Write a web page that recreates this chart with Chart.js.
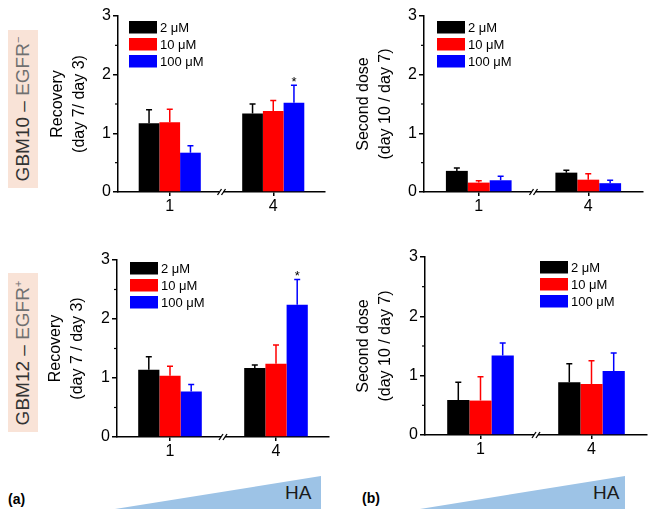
<!DOCTYPE html>
<html>
<head>
<meta charset="utf-8">
<script src="https://cdn.jsdelivr.net/npm/chart.js@4.4.1/dist/chart.umd.min.js"></script>
<style>
    body { margin: 0; background: #fff; }
    #page { position: relative; width: 654px; height: 518px; overflow: hidden; background: #fff;
            font-family: 'Liberation Sans', Arial, sans-serif; }
    .panel { position: absolute; }
    .rowlabel { position: absolute; left: 8px; width: 30px; background: #f9e3d7; }
    .rowlabel .txt { position: absolute; left: 50%; top: 50%; white-space: nowrap; font-size: 19px;
                     transform: translate(-50%, -50%) rotate(-90deg); color: #333; }
    .rowlabel .egfr { color: #707070; }
    .rowlabel sup { font-size: 11px; }
    .tag { position: absolute; font-weight: bold; font-size: 14px; color: #000; }
    .wedge { position: absolute; top: 476px; height: 33px; background: #9dc3e6;
             clip-path: polygon(0 100%, 100% 0, 100% 100%); }
    .ha { position: absolute; top: 482px; font-size: 19px; color: #1a1a1a; }
</style>
</head>
<body>
<div id="page">
    <div class="rowlabel" style="top:30px;height:158px"><span class="txt">GBM10 – <span class="egfr">EGFR<sup>−</sup></span></span></div>
    <div class="rowlabel" style="top:273px;height:159px"><span class="txt">GBM12 – <span class="egfr">EGFR<sup>+</sup></span></span></div>

    <div class="panel" style="left:0;top:0"><canvas id="recGbm10" width="330" height="220"></canvas></div>
    <div class="panel" style="left:330px;top:0"><canvas id="secGbm10" width="324" height="220"></canvas></div>
    <div class="panel" style="left:0;top:240px"><canvas id="recGbm12" width="330" height="220"></canvas></div>
    <div class="panel" style="left:330px;top:240px"><canvas id="secGbm12" width="324" height="220"></canvas></div>

    <div class="tag" style="left:8px;top:491px">(a)</div>
    <div class="tag" style="left:362px;top:490px">(b)</div>
    <div class="wedge" style="left:115px;width:206px"></div>
    <div class="wedge" style="left:420px;width:205px"></div>
    <div class="ha" style="left:285px">HA</div>
    <div class="ha" style="left:593px">HA</div>
</div>

<script>
// Данные: концентрации и точки времени
const doses = ['2 μM', '10 μM', '100 μM'];
const timepoints = ['1', '4'];
const doseColors = ['#000000', '#ff0000', '#0000ff'];

// Recovery (day 7 / day 3), GBM10 — по дозам, затем по точкам
const recGbm10Mean = [[1.17, 1.34], [1.19, 1.38], [0.67, 1.52]];
const recGbm10Err = [[0.23, 0.16], [0.22, 0.18], [0.12, 0.30]];
const recGbm10Sig = [[0, 0], [0, 0], [0, 1]];

// Second dose (day 10 / day 7), GBM10
const secGbm10Mean = [[0.36, 0.33], [0.16, 0.21], [0.20, 0.15]];
const secGbm10Err = [[0.05, 0.04], [0.03, 0.10], [0.07, 0.05]];
const secGbm10Sig = [[0, 0], [0, 0], [0, 0]];

// Recovery, GBM12
const recGbm12Mean = [[1.14, 1.17], [1.04, 1.24], [0.77, 2.24]];
const recGbm12Err = [[0.22, 0.05], [0.16, 0.32], [0.12, 0.43]];
const recGbm12Sig = [[0, 0], [0, 0], [0, 1]];

// Second dose, GBM12
const secGbm12Mean = [[0.59, 0.89], [0.58, 0.86], [1.34, 1.08]];
const secGbm12Err = [[0.30, 0.31], [0.40, 0.39], [0.21, 0.30]];
const secGbm12Sig = [[0, 0], [0, 0], [0, 0]];

const recTitle = ['Recovery', '(day 7/ day 3)'];
const recTitle2 = ['Recovery', '(day 7 / day 3)'];
const secTitle = ['Second dose', '(day 10 / day 7)'];

Chart.defaults.font.family = "'Liberation Sans', Arial, sans-serif";
Chart.defaults.color = '#000';

// Планки погрешностей, звёздочки, малые деления, разрыв оси и легенда
const panelExtras = {
    id: 'panelExtras',
    afterDatasetsDraw(chart, args, opts) {
        const { ctx, chartArea, scales: { x, y } } = chart;
        ctx.save();
        chart.data.datasets.forEach((ds, i) => {
            const meta = chart.getDatasetMeta(i);
            meta.data.forEach((bar, j) => {
                const top = y.getPixelForValue(ds.data[j] + ds.err[j]);
                ctx.strokeStyle = ds.backgroundColor;
                ctx.lineWidth = 1.5;
                ctx.beginPath();
                ctx.moveTo(bar.x, bar.y);
                ctx.lineTo(bar.x, top);
                ctx.moveTo(bar.x - 3, top);
                ctx.lineTo(bar.x + 3, top);
                ctx.stroke();
                if (ds.sig[j]) {
                    ctx.fillStyle = '#000';
                    ctx.font = '13px ' + Chart.defaults.font.family;
                    ctx.textAlign = 'center';
                    ctx.textBaseline = 'alphabetic';
                    ctx.fillText('*', bar.x, top + 1);
                }
            });
        });

        // малые деления по оси Y
        ctx.strokeStyle = '#000';
        ctx.lineWidth = 1.2;
        [0.5, 1.5, 2.5].forEach((v) => {
            const py = y.getPixelForValue(v);
            ctx.beginPath();
            ctx.moveTo(chartArea.left - 3, py);
            ctx.lineTo(chartArea.left, py);
            ctx.stroke();
        });

        // разрыв оси X
        const bx = (x.getPixelForValue(0) + x.getPixelForValue(1)) / 2;
        const by = chartArea.bottom;
        ctx.fillStyle = '#fff';
        ctx.fillRect(bx - 2, by - 2, 4, 4);
        ctx.lineWidth = 1.3;
        [-2, 2].forEach((d) => {
            ctx.beginPath();
            ctx.moveTo(bx + d - 2, by + 3);
            ctx.lineTo(bx + d + 2, by - 3);
            ctx.stroke();
        });

        // легенда
        ctx.font = '13px ' + Chart.defaults.font.family;
        ctx.textAlign = 'left';
        ctx.textBaseline = 'middle';
        chart.data.datasets.forEach((ds, i) => {
            const lx = chartArea.left + opts.legendX;
            const ly = chartArea.top + opts.legendY + i * 17;
            ctx.fillStyle = ds.backgroundColor;
            ctx.fillRect(lx, ly, 28, 12.5);
            ctx.fillStyle = '#000';
            ctx.fillText(ds.label, lx + 31, ly + 7);
        });
        ctx.restore();
    }
};

function makePanel(canvasId, means, errs, sig, yTitle, box) {
    const ctx = document.getElementById(canvasId).getContext('2d');
    return new Chart(ctx, {
        type: 'bar',
        data: {
            labels: timepoints,
            datasets: doses.map((d, i) => ({
                label: d,
                data: means[i],
                err: errs[i],
                sig: sig[i],
                backgroundColor: doseColors[i],
                borderWidth: 0,
                categoryPercentage: 0.6,
                barPercentage: 1.0,
            })),
        },
        options: {
            responsive: false,
            animation: false,
            events: [],
            layout: { padding: { top: box.padTop, right: box.padRight, left: 0, bottom: 0 } },
            plugins: {
                legend: { display: false },
                tooltip: { enabled: false },
                panelExtras: { legendX: box.legendX, legendY: box.legendY },
            },
            scales: {
                x: {
                    offset: true,
                    grid: { drawOnChartArea: false, offset: false, tickLength: 4, color: '#000', lineWidth: 1.5 },
                    border: { color: '#000', width: 1.5 },
                    ticks: { font: { size: 16 }, padding: 1, color: '#000' },
                    afterFit: (s) => { s.height = box.xAxisH; },
                },
                y: {
                    min: 0,
                    max: 3,
                    grid: { drawOnChartArea: false, tickLength: 5, color: '#000', lineWidth: 1.5 },
                    border: { color: '#000', width: 1.5 },
                    ticks: { stepSize: 1, font: { size: 16 }, padding: 2, color: '#000' },
                    title: {
                        display: true,
                        text: yTitle,
                        color: '#000',
                        font: { size: 16, lineHeight: 1.35 },
                        padding: { top: box.titlePad, bottom: 0 },
                    },
                    afterFit: (s) => { s.width = box.axisW; },
                },
            },
        },
        plugins: [panelExtras],
    });
}

makePanel('recGbm10', recGbm10Mean, recGbm10Err, recGbm10Sig, recTitle,
    { padTop: 16, padRight: 5, xAxisH: 28, axisW: 118, titlePad: 47, legendX: 11, legendY: 5 });
makePanel('secGbm10', secGbm10Mean, secGbm10Err, secGbm10Sig, secTitle,
    { padTop: 16, padRight: 11, xAxisH: 28, axisW: 94, titlePad: 23, legendX: 13, legendY: 5 });
makePanel('recGbm12', recGbm12Mean, recGbm12Err, recGbm12Sig, recTitle2,
    { padTop: 20, padRight: 1, xAxisH: 23, axisW: 117, titlePad: 45, legendX: 13, legendY: 2 });
makePanel('secGbm12', secGbm12Mean, secGbm12Err, secGbm12Sig, secTitle,
    { padTop: 17, padRight: 7, xAxisH: 25, axisW: 95, titlePad: 23, legendX: 115, legendY: 4 });
</script>
</body>
</html>
